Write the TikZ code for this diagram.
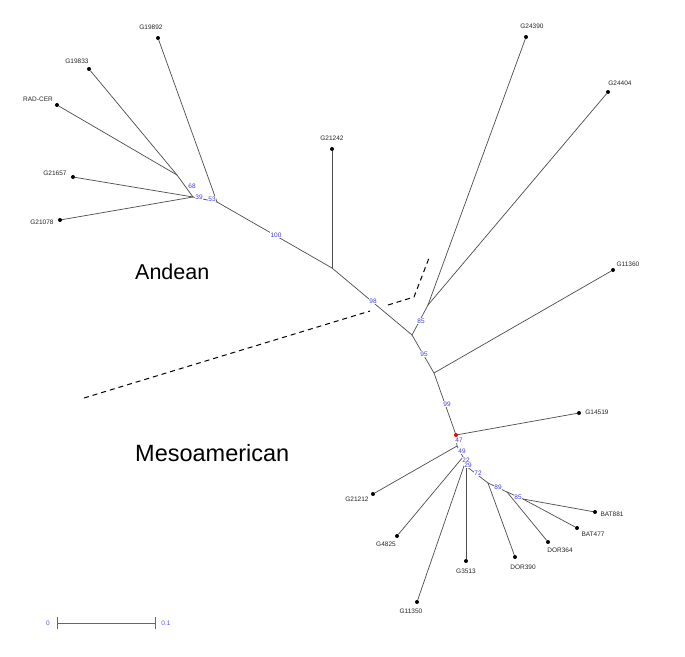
\documentclass[tikz,border=0pt]{standalone}
\usepackage{fontspec}
\setmainfont{Liberation Sans}
\begin{document}
\begin{tikzpicture}[x=1pt,y=-1pt,
  branch/.style={draw=black!70,line width=0.7pt},
  leaf/.style={circle,fill=black,inner sep=0pt,minimum size=4pt},
  lab/.style={font=\fontsize{6.5}{7}\selectfont,text=black!85,inner sep=0pt},
  boot/.style={font=\fontsize{6.5}{7}\selectfont,text=bootblue,fill=white,inner sep=0.4pt},
  region/.style={anchor=west,inner sep=0pt},
  sep/.style={draw=black,line width=1pt,dash pattern=on 5pt off 4pt},
  scalebar/.style={draw=barblue,line width=0.8pt}]
\definecolor{bootblue}{RGB}{60,60,235}
\definecolor{barblue}{RGB}{85,85,240}
\useasboundingbox (0,0) rectangle (685,656);
\fill[white] (0,0) rectangle (685,656);

% internal nodes
\coordinate (L1) at (177,175);
\coordinate (L2) at (193,197);
\coordinate (L3) at (217,202);
\coordinate (Gj) at (332,268);
\coordinate (T1) at (412,335);
\coordinate (T0) at (428,305);
\coordinate (T2) at (434,373);
\coordinate (B1) at (457,446);
\coordinate (B2) at (463,457);
\coordinate (B3) at (465,463);
\coordinate (B4) at (466,466);
\coordinate (B5) at (488,483);
\coordinate (B6) at (507,492);
\coordinate (B7) at (523,499);

% leaves
\node[leaf] (g19892) at (158,38) {};
\node[leaf] (g19833) at (89,69) {};
\node[leaf] (radcer) at (57,105) {};
\node[leaf] (g21657) at (73,177) {};
\node[leaf] (g21078) at (60,220) {};
\node[leaf] (g21242) at (332,149) {};
\node[leaf] (g24390) at (526,37) {};
\node[leaf] (g24404) at (608,92) {};
\node[leaf] (g11360) at (613,270) {};
\node[leaf] (g14519) at (579,413) {};
\node[leaf] (bat881) at (595,512) {};
\node[leaf] (bat477) at (577,528) {};
\node[leaf] (dor364) at (548,542) {};
\node[leaf] (dor390) at (515,557) {};
\node[leaf] (g3513) at (466,561) {};
\node[leaf] (g4825) at (397,536) {};
\node[leaf] (g11350) at (417,602) {};
\node[leaf] (g21212) at (373,494) {};
\coordinate (root) at (456,435);

% dashed separator
\coordinate (d1) at (84,398);
\coordinate (d2) at (370,311);
\coordinate (d3) at (388,305);
\coordinate (d4) at (414,297);
\coordinate (d5) at (429,258);
\draw[sep] (d1) -- (d2);
\draw[sep] (d3) -- (d4) -- (d5);

% branches
\draw[branch] (radcer) -- (L1);
\draw[branch] (g19833) -- (L1);
\draw[branch] (L1) -- (L2);
\draw[branch] (g21657) -- (L2);
\draw[branch] (g21078) -- (L2);
\draw[branch] (L2) -- (L3);
\draw[branch] (g19892) -- (L3);
\draw[branch] (L3) -- (Gj);
\draw[branch] (g21242) -- (Gj);
\draw[branch] (Gj) -- (T1);
\draw[branch] (T1) -- (T0);
\draw[branch] (g24390) -- (T0);
\draw[branch] (g24404) -- (T0);
\draw[branch] (T1) -- (T2);
\draw[branch] (g11360) -- (T2);
\draw[branch] (T2) -- (root);
\draw[branch] (root) -- (g14519);
\draw[branch] (root) -- (B1);
\draw[branch] (B1) -- (g21212);
\draw[branch] (B1) -- (B2);
\draw[branch] (B2) -- (g4825);
\draw[branch] (B2) -- (B3);
\draw[branch] (B3) -- (g11350);
\draw[branch] (B3) -- (B4);
\draw[branch] (B4) -- (g3513);
\draw[branch] (B4) -- (B5);
\draw[branch] (B5) -- (dor390);
\draw[branch] (B5) -- (B6);
\draw[branch] (B6) -- (dor364);
\draw[branch] (B6) -- (B7);
\draw[branch] (B7) -- (bat477);
\draw[branch] (B7) -- (bat881);
\node[circle,fill=red,inner sep=0pt,minimum size=4pt] (rootdot) at (root) {};

% bootstrap values
\node[boot] (b68) at (192,186) {68};
\node[boot] (b39) at (199,197) {39};
\node[boot] (b53) at (212,199) {53};
\node[boot] (b100) at (276,235) {100};
\node[boot] (b98) at (373,301) {98};
\node[boot] (b85a) at (421,321) {85};
\node[boot] (b95) at (424,354) {95};
\node[boot] (b99) at (447,404) {99};
\node[boot] (b47) at (459,440) {47};
\node[boot] (b49) at (462,451) {49};
\node[boot] (b22) at (466,460) {22};
\node[boot] (b29) at (468,465) {29};
\node[boot] (b72) at (478,473) {72};
\node[boot] (b89) at (498,487) {89};
\node[boot] (b85b) at (518,497) {85};

% leaf labels
\node[lab] (t19892) at (151,27) {G19892};
\node[lab] (t19833) at (77,61) {G19833};
\node[lab] (tradcer) at (38,99) {RAD-CER};
\node[lab] (t21657) at (55,173) {G21657};
\node[lab] (t21078) at (42,222) {G21078};
\node[lab] (t21242) at (332,138) {G21242};
\node[lab] (t24390) at (532,26) {G24390};
\node[lab] (t24404) at (620,83) {G24404};
\node[lab] (t11360) at (628,264) {G11360};
\node[lab] (t14519) at (597,412) {G14519};
\node[lab] (tbat881) at (612,514) {BAT881};
\node[lab] (tbat477) at (593,534) {BAT477};
\node[lab] (tdor364) at (560,550) {DOR364};
\node[lab] (tdor390) at (523,567) {DOR390};
\node[lab] (t3513) at (466,571) {G3513};
\node[lab] (t4825) at (386,544) {G4825};
\node[lab] (t11350) at (411,611) {G11350};
\node[lab] (t21212) at (357,499) {G21212};

% region labels
\node[region,font=\fontsize{21.5}{24}\selectfont] (andean) at (135,272) {Andean};
\node[region,font=\fontsize{23.5}{26}\selectfont] (meso) at (135,453) {Mesoamerican};

% scale bar
\coordinate (s0) at (57,623);
\coordinate (s1) at (155,623);
\draw[scalebar] (s0) -- (s1);
\draw[scalebar] ([yshift=-6pt]s0) -- ([yshift=6pt]s0);
\draw[scalebar] ([yshift=-6pt]s1) -- ([yshift=6pt]s1);
\node[boot,fill=none,text=barblue] (s0lab) at (48,623) {0};
\node[boot,fill=none,text=barblue] (s1lab) at (166,623) {0.1};
\end{tikzpicture}
\end{document}
